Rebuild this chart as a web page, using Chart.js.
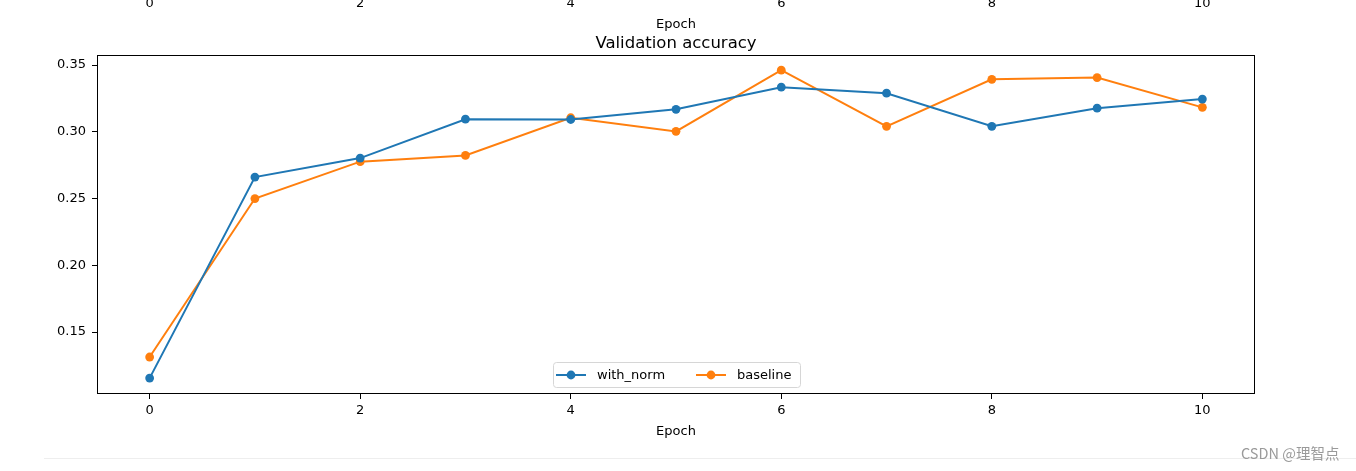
<!DOCTYPE html>
<html>
<head>
<meta charset="utf-8">
<script src="https://cdn.jsdelivr.net/npm/chart.js@4/dist/chart.umd.min.js"></script>
<style>
html,body{margin:0;padding:0;background:#fff;}
#wrap{position:relative;width:1356px;height:471px;}
canvas{display:block;}
</style>
</head>
<body>
<div id="wrap"><canvas id="c" width="1356" height="471"></canvas></div>
<script>
const epochs = [0,1,2,3,4,5,6,7,8,9,10];
const withNorm = [0.1155,0.2661,0.2803,0.3094,0.3092,0.3168,0.3334,0.3289,0.3041,0.3177,0.3245];
const baseline = [0.1313,0.2500,0.2776,0.2823,0.3105,0.3003,0.3461,0.3041,0.3393,0.3406,0.3183];
const xTicks = [0,2,4,6,8,10];
const yTicks = [0.15,0.20,0.25,0.30,0.35];
const seriesNames = ['with_norm','baseline'];
const seriesColors = ['#1f77b4','#ff7f0e'];
const titleText = 'Validation accuracy';
const xTitle = 'Epoch';
const watermark = 'CSDN @理智点';

const FONT = 'DejaVu Sans';

const extras = {
  id: 'extras',
  afterDraw(chart) {
    const ctx = chart.ctx;
    const a = chart.chartArea;
    const xs = chart.scales.x;
    ctx.save();
    // axes frame
    ctx.strokeStyle = '#000';
    ctx.lineWidth = 1;
    ctx.strokeRect(Math.round(a.left)+0.5, Math.round(a.top)+0.5, Math.round(a.right-a.left)-1, Math.round(a.bottom-a.top)-1);
    // top strip: clipped previous subplot's axis labels
    ctx.fillStyle = '#000';
    ctx.font = '13px "' + FONT + '"';
    ctx.textAlign = 'center';
    ctx.textBaseline = 'middle';
    xTicks.forEach(t => ctx.fillText(String(t), xs.getPixelForValue(t), 4));
    ctx.fillText(xTitle, (a.left + a.right) / 2, 24.5);
    // title
    ctx.font = '16.5px "' + FONT + '"';
    ctx.fillText(titleText, (a.left + a.right) / 2, 43.5);
    // legend
    const lx = 553, ly = 362, lw = 247, lh = 25;
    ctx.fillStyle = 'rgba(255,255,255,0.8)';
    ctx.strokeStyle = '#d6d6d6';
    ctx.lineWidth = 1;
    ctx.beginPath();
    ctx.roundRect(lx+0.5, ly+0.5, lw, lh, 3);
    ctx.fill();
    ctx.stroke();
    const items = chart.data.datasets.map((d, i) => ({label: d.label, color: d.borderColor}));
    const starts = [556, 696];
    ctx.font = '13px "' + FONT + '"';
    ctx.textAlign = 'left';
    items.forEach((it, i) => {
      const x0 = starts[i], cy = ly + lh / 2 + 0.5;
      ctx.strokeStyle = it.color;
      ctx.lineWidth = 2;
      ctx.beginPath();
      ctx.moveTo(x0, cy); ctx.lineTo(x0 + 30, cy); ctx.stroke();
      ctx.fillStyle = it.color;
      ctx.beginPath(); ctx.arc(x0 + 15, cy, 4.4, 0, Math.PI * 2); ctx.fill();
      ctx.fillStyle = '#000';
      ctx.fillText(it.label, x0 + 41, cy + 1);
    });
    // bottom separator + watermark
    ctx.strokeStyle = '#eeeeee';
    ctx.lineWidth = 1;
    ctx.beginPath(); ctx.moveTo(44, 458.5); ctx.lineTo(1356, 458.5); ctx.stroke();
    ctx.fillStyle = '#9a9a9a';
    ctx.font = '14.5px "Noto Sans CJK SC", "' + FONT + '"';
    ctx.textAlign = 'left';
    ctx.fillText(watermark, 1241, 453);
    ctx.restore();
  }
};

new Chart(document.getElementById('c'), {
  type: 'line',
  data: {
    labels: epochs,
    datasets: [
      {label: seriesNames[0], data: epochs.map((e, i) => ({x: e, y: withNorm[i]})), borderColor: seriesColors[0], backgroundColor: seriesColors[0], borderWidth: 2, pointRadius: 4.4, pointHoverRadius: 4.4, pointBorderWidth: 0, tension: 0},
      {label: seriesNames[1], data: epochs.map((e, i) => ({x: e, y: baseline[i]})), borderColor: seriesColors[1], backgroundColor: seriesColors[1], borderWidth: 2, pointRadius: 4.4, pointHoverRadius: 4.4, pointBorderWidth: 0, tension: 0}
    ]
  },
  options: {
    responsive: false,
    animation: false,
    devicePixelRatio: 1,
    layout: {padding: {left: 0, right: 101, top: 55, bottom: 29}},
    plugins: {legend: {display: false}, title: {display: false}, tooltip: {enabled: false}},
    scales: {
      x: {
        type: 'linear',
        min: -0.5, max: 10.5,
        afterBuildTicks: s => { s.ticks = xTicks.map(v => ({value: v})); },
        afterFit: s => { s.height = 48; },
        grid: {drawOnChartArea: false, drawTicks: true, tickLength: 5, tickColor: '#000', color: '#000'},
        border: {display: false},
        ticks: {color: '#000', font: {family: FONT, size: 13}, padding: 4, maxRotation: 0, autoSkip: false},
        title: {display: true, text: xTitle, color: '#000', font: {family: FONT, size: 13}, padding: {top: 0, bottom: 3}}
      },
      y: {
        type: 'linear',
        min: 0.1036, max: 0.3575,
        afterBuildTicks: s => { s.ticks = yTicks.map(v => ({value: v})); },
        afterFit: s => { s.width = 97; },
        grid: {drawOnChartArea: false, drawTicks: true, tickLength: 5, tickColor: '#000', color: '#000'},
        border: {display: false},
        ticks: {color: '#000', font: {family: FONT, size: 13}, padding: 6, callback: v => v.toFixed(2)}
      }
    }
  },
  plugins: [extras]
});
</script>
</body>
</html>
